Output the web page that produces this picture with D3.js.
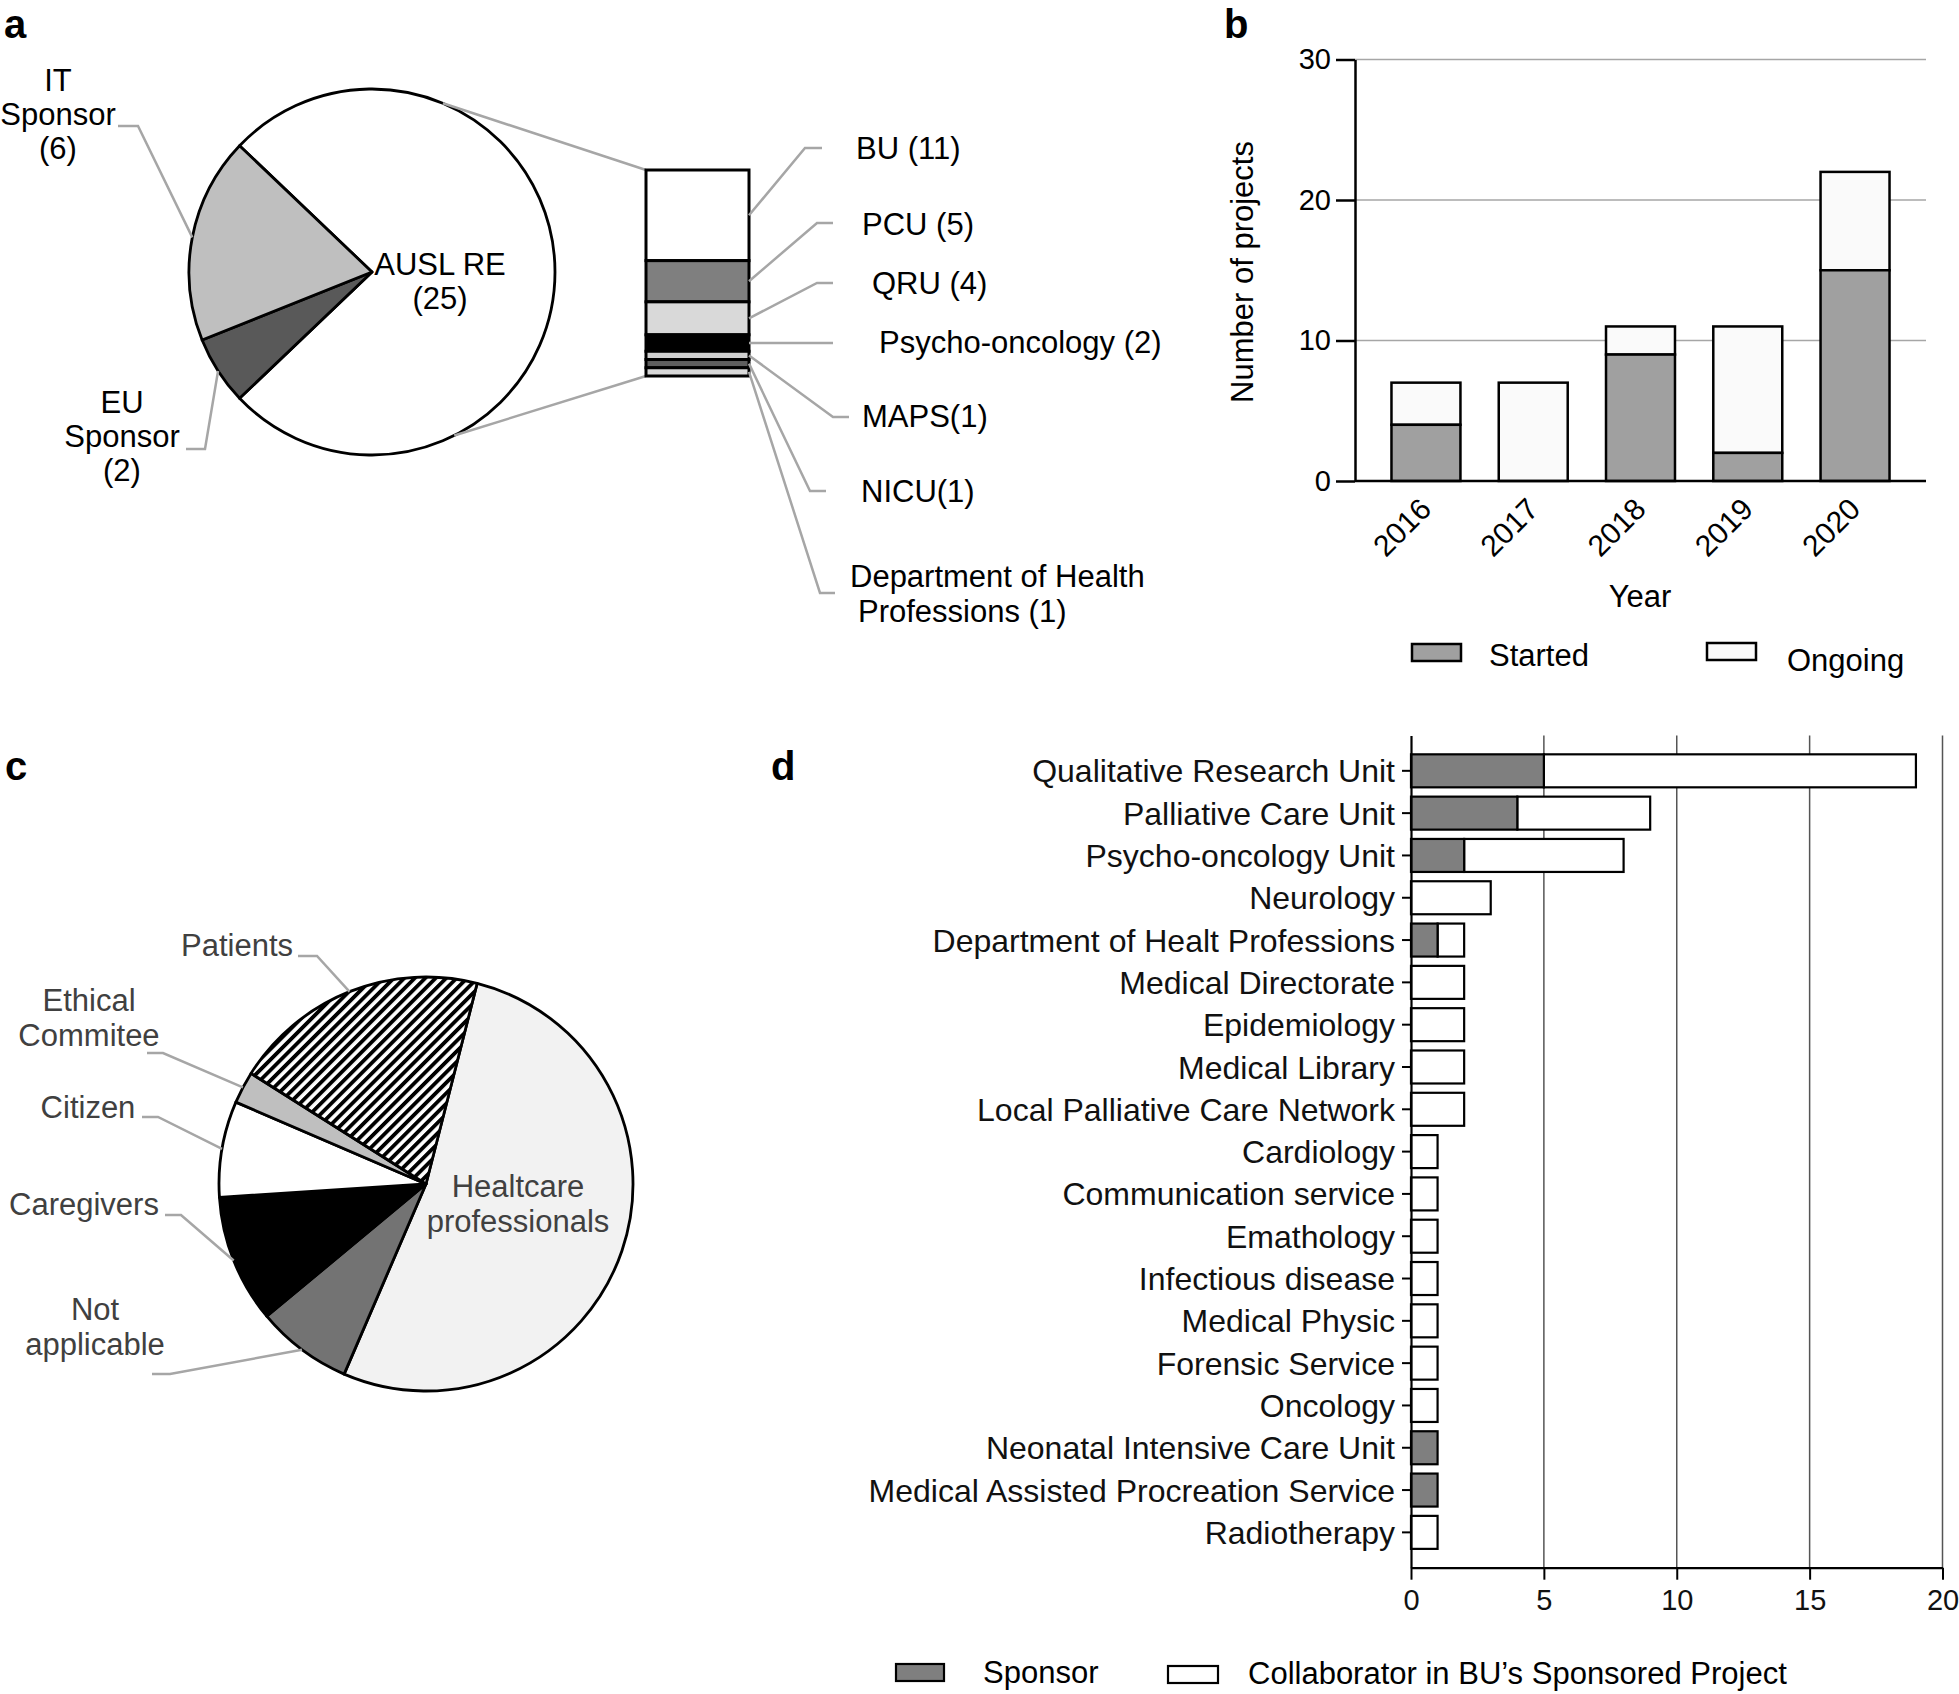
<!DOCTYPE html>
<html><head><meta charset="utf-8">
<script src="https://cdn.jsdelivr.net/npm/d3@7"></script>
<style>
body{margin:0;background:#fff}
svg{display:block}
text{font-family:"Liberation Sans",Arial,Helvetica,sans-serif}
</style>
</head><body>
<svg id="chart" width="1959" height="1694"></svg>
<script>
// ---------- DATA ----------
// Panel a: pie of sponsors
const aCategories = ["AUSL RE", "EU Sponsor", "IT Sponsor"];
const aValues = [25, 2, 6];
const aLabels = [["AUSL RE", "(25)"], ["EU", "Sponsor", "(2)"], ["IT", "Sponsor", "(6)"]];
// Panel a: AUSL RE breakdown
const buCategories = ["BU", "PCU", "QRU", "Psycho-oncology", "MAPS", "NICU", "Department of Health Professions"];
const buValues = [11, 5, 4, 2, 1, 1, 1];
const buLabels = [["BU (11)"], ["PCU (5)"], ["QRU (4)"], ["Psycho-oncology (2)"], ["MAPS(1)"], ["NICU(1)"], ["Department of Health", "Professions (1)"]];
// Panel b
const years = ["2016", "2017", "2018", "2019", "2020"];
const startedValues = [4, 0, 9, 2, 15];
const ongoingValues = [3, 7, 2, 9, 7];
const bTicks = [0, 10, 20, 30];
// Panel c
const cCategories = ["Healtcare professionals", "Not applicable", "Caregivers", "Citizen", "Ethical Commitee", "Patients"];
const cValues = [21, 3, 4, 3, 1, 8];
const cLabels = [["Healtcare", "professionals"], ["Not", "applicable"], ["Caregivers"], ["Citizen"], ["Ethical", "Commitee"], ["Patients"]];
// Panel d
const units = ["Qualitative Research Unit", "Palliative Care Unit", "Psycho-oncology Unit", "Neurology",
  "Department of Healt Professions", "Medical Directorate", "Epidemiology", "Medical Library",
  "Local Palliative Care Network", "Cardiology", "Communication service", "Emathology",
  "Infectious disease", "Medical Physic", "Forensic Service", "Oncology",
  "Neonatal Intensive Care Unit", "Medical Assisted Procreation Service", "Radiotherapy"];
const sponsorValues =      [5, 4, 2, 0, 1, 0, 0, 0, 0, 0, 0, 0, 0, 0, 0, 0, 1, 1, 0];
const collaboratorValues = [14, 5, 6, 3, 1, 2, 2, 2, 2, 1, 1, 1, 1, 1, 1, 1, 0, 0, 1];
const dTicks = [0, 5, 10, 15, 20];

// ---------- HELPERS ----------
const svg = d3.select("#chart");
const FONT = 31;
function polar(cx, cy, r, a) { return [cx + r * Math.sin(a), cy - r * Math.cos(a)]; }
function multiText(g, x, y, lines, lh, anchor, size, fill) {
  const t = g.append("text").attr("x", x).attr("y", y).attr("text-anchor", anchor)
    .attr("font-size", size).attr("fill", fill);
  lines.forEach((l, i) => t.append("tspan").attr("x", x).attr("dy", i === 0 ? 0 : lh).text(l));
  return t;
}
function panelLetter(x, y, s) {
  svg.append("text").attr("x", x).attr("y", y).attr("font-size", 40).attr("font-weight", "bold").text(s);
}
const line = d3.line();

// ---------- PANEL A ----------
panelLetter(4, 38, "a");
const aCx = 372, aCy = 272, aR = 183;
const aColors = ["#ffffff", "#595959", "#bfbfbf"];
const aTotal = d3.sum(aValues);
const aStart = Math.PI / 2 - Math.PI * aValues[0] / aTotal;
const aPie = d3.pie().sort(null).startAngle(aStart).endAngle(aStart + 2 * Math.PI)(aValues);
const aArc = d3.arc().innerRadius(0).outerRadius(aR);
const gA = svg.append("g");
gA.selectAll("path.sl").data(aPie).join("path").attr("class", "sl")
  .attr("transform", `translate(${aCx},${aCy})`).attr("d", aArc)
  .attr("fill", (d, i) => aColors[i]).attr("stroke", "#000").attr("stroke-width", 2.8).attr("stroke-linejoin", "round");

// labels
multiText(gA, 440, 275, aLabels[0], 34, "middle", FONT, "#000");
multiText(gA, 122, 413, aLabels[1], 34, "middle", FONT, "#000");
multiText(gA, 58, 91, aLabels[2], 34, "middle", FONT, "#000");
const leadA = [
  { i: 2, p: [[118, 126], [138, 126]] },
  { i: 1, p: [[186, 449], [205, 449]] }
];
leadA.forEach(L => {
  const d = aPie[L.i];
  const e = polar(aCx, aCy, aR, (d.startAngle + d.endAngle) / 2);
  gA.append("path").attr("d", line([...L.p, e])).attr("fill", "none").attr("stroke", "#a6a6a6").attr("stroke-width", 2.5);
});

// stacked column
const buX0 = 646, buX1 = 749;
const buY = d3.scaleLinear().domain([0, d3.sum(buValues)]).range([170, 376]);
const buColors = ["#ffffff", "#7f7f7f", "#d9d9d9", "#000000", "#d0d0d0", "#5f5f5f", "#d9d9d9"];
const buCum = d3.cumsum(buValues);
const buSeg = buValues.map((v, i) => ({ y0: buCum[i] - v, y1: buCum[i] }));
// zoom lines
const zA1 = polar(aCx, aCy, aR, 22.8 * Math.PI / 180);
const zA2 = polar(aCx, aCy, aR, 153.3 * Math.PI / 180);
gA.append("path").attr("d", line([zA1, [buX0, buY(0)]])).attr("stroke", "#a6a6a6").attr("stroke-width", 2.5);
gA.append("path").attr("d", line([zA2, [buX0, buY(d3.sum(buValues))]])).attr("stroke", "#a6a6a6").attr("stroke-width", 2.5);
gA.selectAll("rect.bu").data(buSeg).join("rect").attr("class", "bu")
  .attr("x", buX0).attr("width", buX1 - buX0)
  .attr("y", d => buY(d.y0)).attr("height", d => buY(d.y1) - buY(d.y0))
  .attr("fill", (d, i) => buColors[i]).attr("stroke", "#000").attr("stroke-width", 3);

const buLab = [
  { x: 856, y: 159, p: [[822, 148], [805, 148]] },
  { x: 862, y: 235, p: [[833, 223], [817, 223]] },
  { x: 872, y: 294, p: [[833, 283], [817, 283]] },
  { x: 879, y: 353, p: [[833, 343]] },
  { x: 862, y: 427, p: [[849, 417], [833, 417]] },
  { x: 861, y: 502, p: [[826, 491], [810, 491]] },
  { x: 850, y: 587, p: [[835, 593], [820, 593]], x2: 858 }
];
buLab.forEach((L, i) => {
  const ym = buY((buSeg[i].y0 + buSeg[i].y1) / 2);
  gA.append("path").attr("d", line([...L.p, [buX1, ym]])).attr("fill", "none")
    .attr("stroke", "#a6a6a6").attr("stroke-width", 2.5);
  const t = gA.append("text").attr("y", L.y).attr("font-size", FONT).attr("fill", "#000");
  buLabels[i].forEach((s, k) => t.append("tspan").attr("x", k === 0 ? L.x : L.x2).attr("dy", k === 0 ? 0 : 35).text(s));
});

// ---------- PANEL B ----------
panelLetter(1224, 38, "b");
const gB = svg.append("g");
const bx = d3.scaleBand().domain(years).range([1355, 1926]).paddingInner(0.357).paddingOuter(0.34);
const by = d3.scaleLinear().domain([0, 30]).range([481, 59.5]);
// grid
gB.selectAll("line.grid").data(bTicks.filter(t => t > 0)).join("line").attr("class", "grid")
  .attr("x1", 1355).attr("x2", 1926).attr("y1", d => by(d)).attr("y2", d => by(d))
  .attr("stroke", "#a6a6a6").attr("stroke-width", 1.5);
// bars
years.forEach((yr, i) => {
  const s = startedValues[i], o = ongoingValues[i];
  if (o > 0) gB.append("rect").attr("x", bx(yr)).attr("width", bx.bandwidth())
    .attr("y", by(s + o)).attr("height", by(s) - by(s + o))
    .attr("fill", "#fafafa").attr("stroke", "#000").attr("stroke-width", 2.5);
  if (s > 0) gB.append("rect").attr("x", bx(yr)).attr("width", bx.bandwidth())
    .attr("y", by(s)).attr("height", by(0) - by(s))
    .attr("fill", "#a0a0a0").attr("stroke", "#000").attr("stroke-width", 2.5);
});
// y axis
const bAxis = gB.append("g").attr("transform", "translate(1355,0)")
  .call(d3.axisLeft(by).tickValues(bTicks).tickSize(19).tickSizeOuter(0).tickPadding(5));
bAxis.select(".domain").attr("stroke", "#000").attr("stroke-width", 2.5);
bAxis.selectAll(".tick line").attr("stroke", "#000").attr("stroke-width", 2.5);
bAxis.selectAll(".tick text").attr("font-size", 29).attr("fill", "#000").attr("font-family", null);
// x axis line
gB.append("line").attr("x1", 1355).attr("x2", 1926).attr("y1", by(0)).attr("y2", by(0))
  .attr("stroke", "#000").attr("stroke-width", 2.5);
// year labels
gB.selectAll("text.yr").data(years).join("text").attr("class", "yr")
  .attr("text-anchor", "end").attr("font-size", 30)
  .attr("transform", d => `translate(${bx(d) + bx.bandwidth() / 2 + 7},${by(0) + 30}) rotate(-45)`)
  .text(d => d);
gB.append("text").attr("x", 1640).attr("y", 607).attr("text-anchor", "middle").attr("font-size", FONT).text("Year");
gB.append("text").attr("transform", "translate(1253,272) rotate(-90)").attr("text-anchor", "middle")
  .attr("font-size", FONT).text("Number of projects");
// legend
gB.append("rect").attr("x", 1412).attr("y", 644).attr("width", 49).attr("height", 17)
  .attr("fill", "#a0a0a0").attr("stroke", "#000").attr("stroke-width", 2.5);
gB.append("text").attr("x", 1489).attr("y", 666).attr("font-size", FONT).text("Started");
gB.append("rect").attr("x", 1707).attr("y", 643).attr("width", 49).attr("height", 17)
  .attr("fill", "#fafafa").attr("stroke", "#000").attr("stroke-width", 2.5);
gB.append("text").attr("x", 1787).attr("y", 671).attr("font-size", FONT).text("Ongoing");

// ---------- PANEL C ----------
panelLetter(5, 780, "c");
const defs = svg.append("defs");
const pat = defs.append("pattern").attr("id", "hatch").attr("patternUnits", "userSpaceOnUse")
  .attr("width", 7.4).attr("height", 20).attr("patternTransform", "rotate(45)");
pat.append("rect").attr("width", 7.4).attr("height", 20).attr("fill", "#fff");
pat.append("rect").attr("width", 3.8).attr("height", 20).attr("fill", "#000");
const cCx = 426, cCy = 1184, cR = 207;
const cColors = ["#f2f2f2", "#737373", "#000000", "#ffffff", "#bfbfbf", "url(#hatch)"];
const cStart = 14.3 * Math.PI / 180;
const cPie = d3.pie().sort(null).startAngle(cStart).endAngle(cStart + 2 * Math.PI)(cValues);
const cArc = d3.arc().innerRadius(0).outerRadius(cR);
const gC = svg.append("g");
gC.selectAll("path.sl").data(cPie).join("path").attr("class", "sl")
  .attr("transform", `translate(${cCx},${cCy})`).attr("d", cArc)
  .attr("fill", (d, i) => cColors[i]).attr("stroke", "#000").attr("stroke-width", 2.8).attr("stroke-linejoin", "round");
const cTxt = "#404040";
multiText(gC, 518, 1197, cLabels[0], 35, "middle", FONT, cTxt);
const cLab = [
  null,
  { x: 95, y: 1320, p: [[152, 1374], [170, 1374]] },
  { x: 84, y: 1215, p: [[165, 1215], [181, 1215]] },
  { x: 88, y: 1118, p: [[142, 1117], [158, 1117]] },
  { x: 89, y: 1011, p: [[147, 1053], [163, 1053]] },
  { x: 237, y: 956, p: [[298, 956], [317, 956]] }
];
cLab.forEach((L, i) => {
  if (!L) return;
  const d = cPie[i];
  const e = polar(cCx, cCy, cR, (d.startAngle + d.endAngle) / 2);
  gC.append("path").attr("d", line([...L.p, e])).attr("fill", "none").attr("stroke", "#a6a6a6").attr("stroke-width", 2.5);
  multiText(gC, L.x, L.y, cLabels[i], 35, "middle", FONT, cTxt);
});

// ---------- PANEL D ----------
panelLetter(771, 780, "d");
const gD = svg.append("g");
const dx = d3.scaleLinear().domain([0, 20]).range([1411, 1942.5]);
const dy = d3.scaleBand().domain(units).range([735.5, 1567.7]).paddingInner(0.22).paddingOuter(0.445);
gD.selectAll("line.grid").data(dTicks.filter(t => t > 0)).join("line").attr("class", "grid")
  .attr("x1", d => dx(d)).attr("x2", d => dx(d)).attr("y1", 735.5).attr("y2", 1567.7)
  .attr("stroke", "#555").attr("stroke-width", 1.5);
units.forEach((u, i) => {
  const s = sponsorValues[i], c = collaboratorValues[i];
  if (c > 0) gD.append("rect").attr("x", dx(s)).attr("width", dx(s + c) - dx(s))
    .attr("y", dy(u)).attr("height", dy.bandwidth())
    .attr("fill", "#fff").attr("stroke", "#000").attr("stroke-width", 2.2);
  if (s > 0) gD.append("rect").attr("x", dx(0)).attr("width", dx(s) - dx(0))
    .attr("y", dy(u)).attr("height", dy.bandwidth())
    .attr("fill", "#7f7f7f").attr("stroke", "#000").attr("stroke-width", 2.2);
});
const dyAxis = gD.append("g").attr("transform", `translate(${dx(0)},0)`)
  .call(d3.axisLeft(dy).tickSize(9).tickSizeOuter(0).tickPadding(7));
dyAxis.select(".domain").attr("stroke", "#000").attr("stroke-width", 2.2);
dyAxis.selectAll(".tick line").attr("stroke", "#000").attr("stroke-width", 2);
dyAxis.selectAll(".tick text").attr("font-size", 32).attr("fill", "#111").attr("font-family", null).attr("dy", "0.36em");
const dxAxis = gD.append("g").attr("transform", "translate(0,1567.7)")
  .call(d3.axisBottom(dx).tickValues(dTicks).tickSize(12).tickSizeOuter(0).tickPadding(10));
dxAxis.select(".domain").attr("stroke", "#000").attr("stroke-width", 2.2);
dxAxis.selectAll(".tick line").attr("stroke", "#000").attr("stroke-width", 2);
dxAxis.selectAll(".tick text").attr("font-size", 29).attr("fill", "#111").attr("font-family", null);
// legend
gD.append("rect").attr("x", 896).attr("y", 1664).attr("width", 48).attr("height", 17)
  .attr("fill", "#7f7f7f").attr("stroke", "#000").attr("stroke-width", 2.2);
gD.append("text").attr("x", 983).attr("y", 1683).attr("font-size", FONT).text("Sponsor");
gD.append("rect").attr("x", 1168).attr("y", 1666).attr("width", 50).attr("height", 17)
  .attr("fill", "#fff").attr("stroke", "#000").attr("stroke-width", 2.2);
gD.append("text").attr("x", 1248).attr("y", 1684).attr("font-size", FONT).text("Collaborator in BU\u2019s Sponsored Project");
</script>
</body></html>
